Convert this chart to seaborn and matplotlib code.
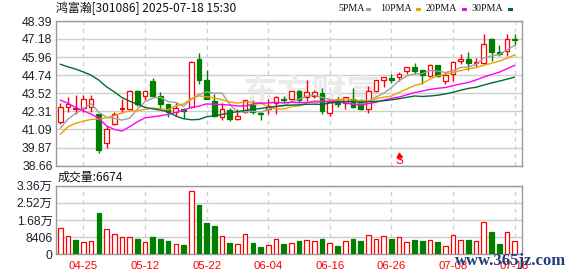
import numpy as np
import pandas as pd
import matplotlib
matplotlib.use("Agg")
import matplotlib.pyplot as plt
from matplotlib.patches import Rectangle
import seaborn as sns

# ---------------- data ----------------
opens = [41.56, 42.57, 42.48, 42.54, 42.57, 42.10, 40.19, 41.43, 42.45, 42.44,
         43.71, 43.31, 44.34, 43.31, 42.77, 42.24, 42.48, 42.57, 45.86, 44.39,
         42.97, 41.94, 42.39, 41.76, 42.28, 42.73, 42.19, 42.44, 42.84, 43.15,
         43.15, 43.67, 43.28, 43.33, 43.51, 42.17, 42.95, 42.84, 43.15, 42.95,
         42.44, 43.67, 44.45, 44.52, 44.63, 45.03, 45.28, 45.08, 44.67, 45.41,
         44.36, 44.79, 45.70, 45.80, 45.57, 45.57, 47.21, 46.27, 46.37, 47.16]
highs = [42.84, 43.24, 43.40, 43.38, 43.38, 42.15, 41.31, 42.23, 43.15, 43.73,
         43.72, 43.67, 44.56, 43.60, 42.80, 42.93, 42.52, 45.70, 46.24, 45.06,
         43.46, 42.88, 42.50, 42.48, 43.10, 43.06, 42.28, 43.11, 43.33, 43.33,
         43.69, 43.73, 44.41, 43.73, 43.85, 43.06, 43.24, 43.30, 43.85, 43.11,
         44.02, 44.42, 44.61, 44.81, 44.96, 45.28, 45.53, 45.10, 45.48, 45.43,
         44.96, 45.68, 46.20, 46.27, 45.93, 47.54, 47.23, 46.76, 47.50, 47.50]
lows = [41.43, 42.28, 42.12, 42.26, 42.28, 39.52, 39.86, 41.40, 42.17, 42.40,
        42.66, 43.06, 43.33, 42.44, 41.94, 41.99, 41.85, 42.55, 44.18, 43.12,
        41.90, 41.72, 41.67, 41.74, 42.20, 42.10, 41.72, 42.12, 42.12, 42.88,
        43.06, 42.95, 43.02, 43.20, 42.12, 42.01, 42.57, 42.46, 42.50, 42.42,
        42.17, 43.62, 43.95, 44.22, 44.32, 44.81, 44.81, 44.18, 44.65, 44.65,
        44.14, 44.34, 45.48, 45.12, 45.30, 45.48, 45.70, 46.04, 46.04, 46.76]
closes = [42.61, 42.77, 42.52, 43.11, 43.11, 39.72, 41.09, 42.14, 42.52, 43.71,
          42.79, 43.65, 43.35, 42.77, 42.24, 42.52, 42.34, 45.66, 44.45, 43.15,
          42.01, 42.44, 41.78, 41.99, 43.06, 42.28, 42.12, 42.66, 43.24, 43.06,
          43.65, 43.06, 43.58, 43.60, 42.33, 42.91, 42.79, 43.28, 42.57, 42.44,
          43.67, 44.39, 44.59, 44.39, 44.81, 45.26, 45.03, 44.74, 45.41, 44.67,
          44.74, 45.66, 45.80, 45.57, 45.64, 46.87, 46.31, 46.20, 47.21, 47.11]

ma5 = [41.16, 41.79, 42.17, 42.50, 42.82, 42.25, 41.91, 41.83, 41.72, 41.84,
       42.45, 42.96, 43.20, 43.25, 42.96, 42.91, 42.64, 43.11, 43.44, 43.62,
       43.52, 43.54, 42.77, 42.27, 42.26, 42.31, 42.25, 42.42, 42.67, 42.67,
       42.95, 43.13, 43.32, 43.39, 43.24, 43.10, 43.04, 42.98, 42.78, 42.80,
       42.95, 43.27, 43.53, 43.90, 44.37, 44.69, 44.82, 44.85, 45.05, 45.02,
       44.92, 45.04, 45.26, 45.29, 45.48, 45.91, 46.04, 46.12, 46.45, 46.74]
ma10 = [40.76, 41.27, 41.50, 41.65, 41.76, 41.79, 41.87, 42.01, 42.21, 42.33,
        42.35, 42.44, 42.52, 42.49, 42.40, 42.68, 42.80, 43.16, 43.35, 43.29,
        43.21, 43.09, 42.94, 42.86, 42.94, 42.92, 42.89, 42.59, 42.47, 42.46,
        42.63, 42.69, 42.87, 43.03, 42.96, 43.02, 43.09, 43.15, 43.08, 43.02,
        43.02, 43.16, 43.26, 43.34, 43.58, 43.82, 44.04, 44.19, 44.47, 44.70,
        44.80, 44.93, 45.05, 45.17, 45.25, 45.41, 45.54, 45.69, 45.87, 46.11]
ma20 = [43.06, 42.84, 42.57, 42.34, 42.12, 41.83, 41.33, 41.09, 40.98, 41.27,
        41.60, 41.87, 41.94, 42.01, 42.10, 42.24, 42.39, 42.57, 42.66, 42.81,
        42.78, 42.76, 42.73, 42.67, 42.67, 42.80, 42.85, 42.87, 42.91, 42.88,
        42.92, 42.89, 42.90, 42.94, 42.95, 42.97, 42.99, 42.87, 42.78, 42.74,
        42.83, 42.92, 43.06, 43.18, 43.27, 43.42, 43.57, 43.67, 43.78, 43.86,
        43.91, 44.04, 44.15, 44.25, 44.42, 44.62, 44.79, 44.94, 45.17, 45.40]
ma30 = [45.48, 45.30, 45.15, 44.96, 44.74, 44.41, 43.96, 43.62, 43.24, 42.99,
        42.79, 42.57, 42.48, 42.39, 42.28, 41.99, 41.81, 41.74, 41.76, 41.94,
        42.01, 42.10, 42.21, 42.28, 42.37, 42.44, 42.50, 42.57, 42.64, 42.70,
        42.73, 42.74, 42.78, 42.79, 42.77, 42.87, 42.93, 42.97, 42.97, 42.93,
        42.96, 42.98, 43.02, 43.08, 43.16, 43.25, 43.34, 43.31, 43.34, 43.39,
        43.48, 43.59, 43.73, 43.85, 43.93, 44.08, 44.22, 44.34, 44.47, 44.61]

volumes = [12730, 8813, 7018, 6038, 6528, 20237, 12240, 9792, 8323, 8323,
           7507, 6038, 8486, 7507, 6528, 4896, 4570, 30845, 24154, 15341,
           13872, 8813, 5549, 4896, 9792, 5549, 3590, 4406, 7344, 5059,
           5386, 6528, 7181, 6528, 7507, 5549, 4080, 6528, 7507, 6691,
           9466, 7507, 8813, 7507, 8323, 6038, 7018, 6691, 7018, 6038,
           3917, 9466, 7018, 7018, 6528, 15667, 10934, 5059, 10934, 6674]
vol_up = [1, 1, 0, 1, 1, 0, 1, 1, 1, 1,
          0, 1, 0, 0, 0, 1, 0, 1, 0, 0,
          0, 1, 0, 1, 1, 0, 0, 1, 1, 0,
          1, 0, 1, 1, 0, 1, 0, 1, 0, 0,
          1, 1, 1, 0, 1, 1, 0, 0, 1, 0,
          1, 1, 1, 0, 1, 1, 0, 0, 1, 1]

tick_idx = [3, 11, 19, 27, 35, 43, 51, 59]
tick_labels = ["04-25", "05-12", "05-22", "06-04", "06-16", "06-26", "07-08", "07-18"]
price_ticks = [38.66, 39.87, 41.09, 42.31, 43.52, 44.74, 45.96, 47.18, 48.39]
price_labels = ["38.66", "39.87", "41.09", "42.31", "43.52", "44.74", "45.96", "47.18", "48.39"]
vol_ticks = [0, 8406, 16812, 25218, 33624]
vol_labels = ["0", "8406", "1.68万", "2.52万", "3.36万"]
title = "鸿富瀚[301086] 2025-07-18 15:30"
vol_title = "成交量:6674"
ma_names = ["5PMA", "10PMA", "20PMA", "30PMA"]
signal_idx = 44

# ---------------- style ----------------
sns.set_style("white")
plt.rcParams['font.family'] = ['Liberation Sans', 'Noto Sans CJK SC', 'DejaVu Sans']

RED = '#ff0000'
GREEN = '#008000'
MA_COLORS = ['#a0a0a0', '#f0a000', '#ff00ff', '#006a35']
GRID = '#cfcfcf'
FRAME = '#999999'
TXT = '#202030'

W, H = 578, 276
fig = plt.figure(figsize=(W / 100, H / 100), dpi=100, facecolor='white')
L0, R0 = 56, 522
ax = fig.add_axes([L0 / W, (H - 165.5) / H, (R0 - L0) / W, (165.5 - 21) / H])
axv = fig.add_axes([L0 / W, (H - 254.3) / H, (R0 - L0) / W, (254.3 - 185.7) / H])

df = pd.DataFrame({"x": np.arange(len(closes)), "open": opens, "high": highs,
                   "low": lows, "close": closes, "ma5": ma5, "ma10": ma10,
                   "ma20": ma20, "ma30": ma30, "vol": volumes, "vup": vol_up})
x = df["x"].to_numpy()
o = df["open"].to_numpy(); c = df["close"].to_numpy()
up = c >= o
xlim = (-0.56, 59.96)

# ---------------- price panel ----------------
for a in (ax, axv):
    a.set_xlim(*xlim)
    for s in a.spines.values():
        s.set_color(FRAME); s.set_linewidth(1.0)
    for t in tick_idx:
        a.axvline(t, color=GRID, lw=1.0, ls=(0, (3, 3)), zorder=0.5)

ax.set_ylim(price_ticks[0], price_ticks[-1])
for yv in price_ticks:
    ax.axhline(yv, color=GRID, lw=1.0, zorder=0.5)
ax.set_yticks(price_ticks)
ax.set_yticklabels(price_labels)
ax.set_xticks([])
ax.tick_params(axis='y', length=0, pad=2.5, labelsize=8.8, labelcolor=TXT)

ax.text(0.55, 0.5, "东方财富", transform=ax.transAxes, fontsize=25, fontweight='bold',
        color='#ebebeb', ha='center', va='center', family=['Noto Sans CJK SC'], zorder=0.6)

colors = np.where(up, RED, GREEN)
ax.vlines(x, df["low"], df["high"], colors=colors, lw=1.0, zorder=2)
body_b = np.minimum(o, c)
body_h = np.maximum(np.abs(c - o), 0.02)
ax.bar(x[up], body_h[up], bottom=body_b[up], width=0.62, facecolor='white',
       edgecolor=RED, lw=0.9, zorder=3)
ax.bar(x[~up], body_h[~up], bottom=body_b[~up], width=0.62, facecolor=GREEN,
       edgecolor=GREEN, lw=0.9, zorder=3)

for name, col in zip(["ma5", "ma10", "ma20", "ma30"], MA_COLORS):
    sns.lineplot(data=df, x="x", y=name, ax=ax, color=col, lw=1.0, legend=False, zorder=4)
ax.set_xlabel(""); ax.set_ylabel("")
ax.set_xlim(*xlim)

ax.plot([signal_idx], [39.40], marker='^', color=RED, ms=3.5, zorder=5)
ax.text(signal_idx, 38.98, "S", color=RED, fontsize=8.5, ha='center', va='center', zorder=5)

# ---------------- volume panel ----------------
vup = df["vup"].to_numpy().astype(bool)
vol = df["vol"].to_numpy()
axv.set_ylim(vol_ticks[0], vol_ticks[-1])
for yv in vol_ticks:
    axv.axhline(yv, color=GRID, lw=1.0, zorder=0.5)
axv.bar(x[vup], vol[vup], width=0.6, facecolor='white', edgecolor=RED, lw=0.9, zorder=3)
axv.bar(x[~vup], vol[~vup], width=0.6, facecolor=GREEN, edgecolor=GREEN, lw=0.9, zorder=3)
axv.set_yticks(vol_ticks)
axv.set_yticklabels(vol_labels)
axv.set_xticks(tick_idx)
axv.set_xticklabels(tick_labels)
axv.tick_params(axis='y', length=0, pad=2.5, labelsize=8.8, labelcolor=TXT)
axv.tick_params(axis='x', length=0, pad=5, labelsize=8.2, labelcolor=RED)

# ---------------- header texts ----------------
fig.text(L0 / W, 1 - 8.3 / H, title, fontsize=8.6, color='#111111', ha='left', va='center',
         family=['Noto Sans CJK SC', 'DejaVu Sans'])
fig.text(58 / W, 1 - 177 / H, vol_title, fontsize=8.6, color='#111111', ha='left', va='center',
         family=['Noto Sans CJK SC', 'DejaVu Sans'])

leg_text_x = [338, 380, 426, 472]
leg_sq_x = [366, 416, 462, 508]
for name, col, tx, sx in zip(ma_names, MA_COLORS, leg_text_x, leg_sq_x):
    fig.text(tx / W, 1 - 8.3 / H, name, fontsize=7.2, color='#111111', ha='left', va='center',
             family=['Liberation Serif'])
    fig.patches.append(Rectangle((sx / W, 1 - 10.8 / H), 5 / W, 3 / H, transform=fig.transFigure,
                                 facecolor=col, edgecolor='none'))

fig.text(455 / W, 1 - 261 / H, "www.365jz.com", fontsize=12, color='#1f3d7a', ha='left',
         va='center', family=['Liberation Serif'], fontweight='bold')

fig.savefig("out.png", dpi=100, facecolor='white')
